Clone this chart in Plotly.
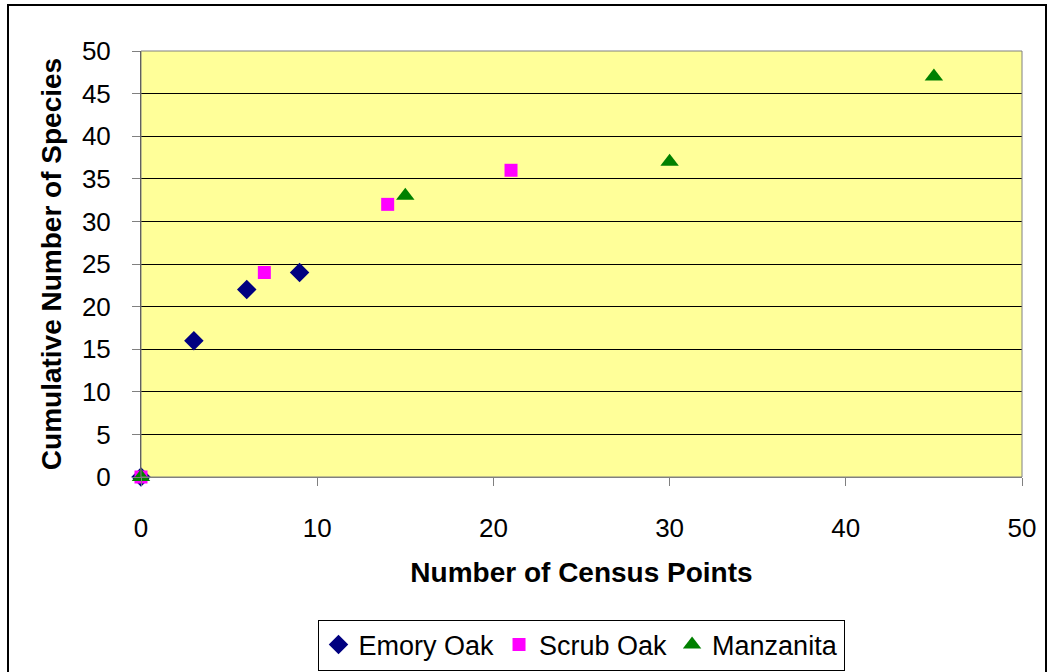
import plotly.graph_objects as go

emory_x = [0, 3, 6, 9]
emory_y = [0, 16, 22, 24]
scrub_x = [0, 7, 14, 21]
scrub_y = [0, 24, 32, 36]
manz_x = [0, 15, 30, 45]
manz_y = [0, 33, 37, 47]

tick_vals_x = [0, 10, 20, 30, 40, 50]
tick_vals_y = list(range(0, 51, 5))

FONT = "Liberation Sans, Arial, sans-serif"

fig = go.Figure()
fig.add_trace(go.Scatter(x=emory_x, y=emory_y, mode="markers", name="Emory Oak",
                         marker=dict(symbol="diamond", size=15, color="#000080"), cliponaxis=False))
fig.add_trace(go.Scatter(x=scrub_x, y=scrub_y, mode="markers", name="Scrub Oak",
                         marker=dict(symbol="square", size=13, color="#FF00FF"), cliponaxis=False))
fig.add_trace(go.Scatter(x=manz_x, y=manz_y, mode="markers", name="Manzanita",
                         marker=dict(symbol="triangle-up", size=16, color="#008000"), cliponaxis=False))

W, H = 1048, 672
L, R, T, B = 141, 26, 51, 195
pw = W - L - R
ph = H - T - B

def px2x(p):
    return (p - L) / pw

def py2y(p):
    return (H - B - p) / ph

fig.update_layout(
    width=W, height=H,
    margin=dict(l=L, r=R, t=T, b=B, pad=0, autoexpand=False),
    paper_bgcolor="white",
    plot_bgcolor="#FFFF99",
    font=dict(family=FONT, size=26, color="black"),
    showlegend=True,
    legend=dict(orientation="h", x=px2x(581), xanchor="center",
                yref="container", y=(H - 645) / H, yanchor="middle",
                bordercolor="black", borderwidth=1, bgcolor="white",
                font=dict(family=FONT, size=27, color="black"), itemwidth=30),
    xaxis=dict(range=[0, 50], tickvals=tick_vals_x, showgrid=False, zeroline=False,
               showline=True, linecolor="#808080", linewidth=1, automargin=False,
               ticks="outside", ticklen=8, tickcolor="#808080",
               ticklabelstandoff=20, tickfont=dict(size=26),
               title=dict(text="<b>Number of Census Points</b>", font=dict(family=FONT, size=28), standoff=20)),
    yaxis=dict(range=[0, 50], tickvals=tick_vals_y, showgrid=True, gridcolor="black", gridwidth=1,
               zeroline=False, showline=True, linecolor="#404040", linewidth=1, automargin=False,
               ticks="outside", ticklen=8, tickcolor="#808080",
               ticklabelstandoff=16, tickfont=dict(size=26),
               title=dict(text="<b>Cumulative Number of Species</b>", font=dict(family=FONT, size=28), standoff=12)),
    shapes=[
        dict(type="rect", xref="paper", yref="paper", x0=0, x1=1, y0=0, y1=1,
             line=dict(color="#808080", width=1), fillcolor="rgba(0,0,0,0)", layer="above"),
        dict(type="rect", xref="paper", yref="paper", x0=px2x(8), x1=px2x(1046), y0=py2y(5), y1=py2y(700),
             line=dict(color="black", width=2), fillcolor="rgba(0,0,0,0)"),
    ],
)

fig.write_html("out.html")
